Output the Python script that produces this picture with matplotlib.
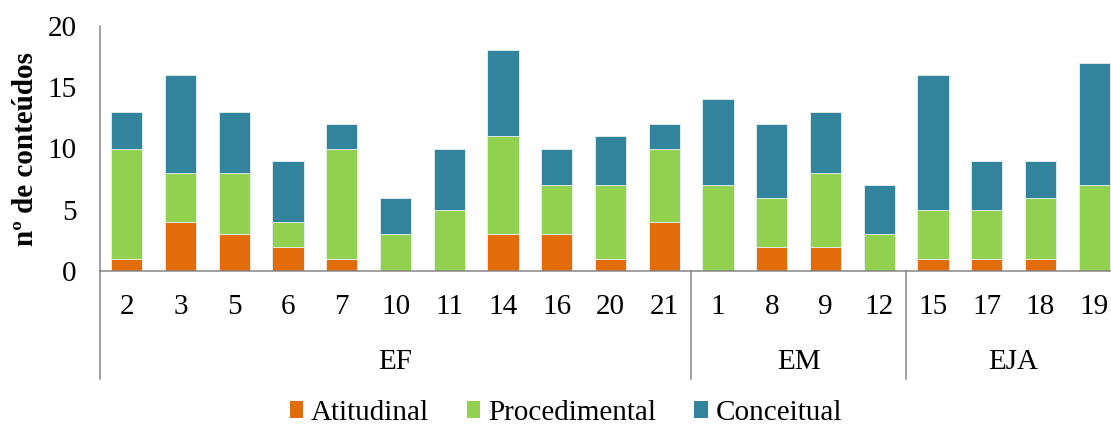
import matplotlib
matplotlib.use("Agg")
import matplotlib.pyplot as plt
from matplotlib.patches import Patch
import numpy as np

# Data: number of contents per document, by type
categories = ["2", "3", "5", "6", "7", "10", "11", "14", "16", "20", "21",
              "1", "8", "9", "12",
              "15", "17", "18", "19"]
groups = ["EF", "EM", "EJA"]
group_sizes = [11, 4, 4]

atitudinal = [1, 4, 3, 2, 1, 0, 0, 3, 3, 1, 4, 0, 2, 2, 0, 1, 1, 1, 0]
procedimental = [9, 4, 5, 2, 9, 3, 5, 8, 4, 6, 6, 7, 4, 6, 3, 4, 4, 5, 7]
conceitual = [3, 8, 5, 5, 2, 3, 5, 7, 3, 4, 2, 7, 6, 5, 4, 11, 4, 3, 10]

series = ["Atitudinal", "Procedimental", "Conceitual"]
colors = ["#E36C0A", "#92D050", "#31849B"]

plt.rcParams["font.family"] = ["Liberation Serif", "DejaVu Serif"]
FS = 21

W, H = 1111, 428
fig = plt.figure(figsize=(W / 100, H / 100), dpi=100)
left, right, top, bottom = 100, 1121, 26, 271
ax = fig.add_axes([left / W, 1 - bottom / H, (right - left) / W, (bottom - top) / H])

x = np.arange(len(categories))
width = 0.58
base = np.zeros(len(categories))
for vals, col in zip([atitudinal, procedimental, conceitual], colors):
    vals = np.array(vals, dtype=float)
    ax.bar(x, vals, width, bottom=base, color=col, edgecolor="#E8F0F0",
           linewidth=0.6, zorder=2)
    base += vals

ax.set_xlim(-0.5, len(categories) - 0.5)
ax.set_ylim(0, 20)
ax.set_yticks([0, 5, 10, 15, 20])
ax.tick_params(axis="y", length=0, pad=17, labelsize=FS)
ax.set_xticks([])

axis_col = "#868686"
for s in ["top", "right"]:
    ax.spines[s].set_visible(False)
for s in ["left", "bottom"]:
    ax.spines[s].set_color(axis_col)
    ax.spines[s].set_linewidth(1.1)

ax.set_ylabel("nº de conteúdos", fontsize=FS, fontweight="bold", labelpad=6)

# category labels and group labels below the axis
xt = ax.get_xaxis_transform()
ax_h = bottom - top
for xi, lab in zip(x, categories):
    ax.text(xi, (bottom - 307) / ax_h, lab, transform=xt, ha="center",
            va="center", fontsize=FS)

bounds = np.concatenate([[0], np.cumsum(group_sizes)]) - 0.5
for g, a, b in zip(groups, bounds[:-1], bounds[1:]):
    ax.text((a + b) / 2, (bottom - 362) / ax_h, g, transform=xt, ha="center",
            va="center", fontsize=FS)
for bx in bounds[:-1]:
    ax.plot([bx, bx], [0, (bottom - 379) / ax_h], transform=xt, color=axis_col,
            lw=1.1, clip_on=False, zorder=3)

handles = [Patch(facecolor=c, edgecolor="none") for c in colors]
fig.legend(handles, series, loc="center", bbox_to_anchor=(566 / W, 1 - 413 / H),
           ncol=3, frameon=False, fontsize=FS, handlelength=0.45,
           handleheight=0.5, handletextpad=0.28, columnspacing=1.3,
           borderpad=0, borderaxespad=0)

fig.savefig("out.png", dpi=100)
